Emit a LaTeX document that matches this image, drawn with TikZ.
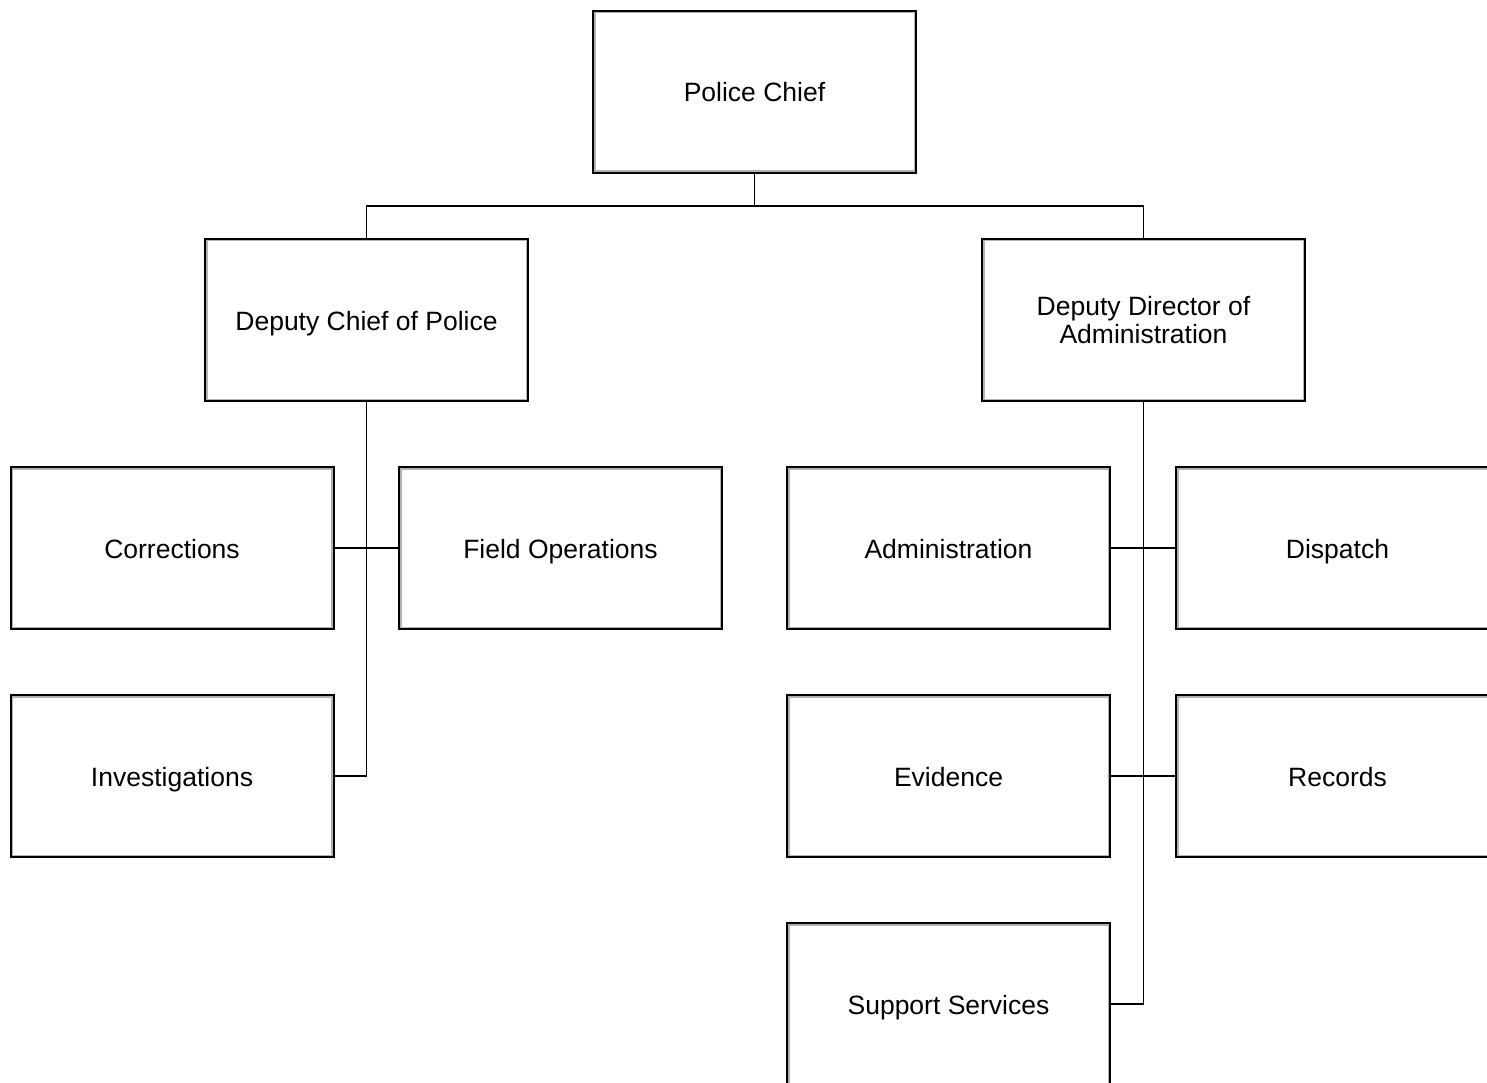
\documentclass[tikz,border=0pt]{standalone}
\usepackage{fontspec}
\setmainfont{Liberation Sans}
\begin{document}
\begin{tikzpicture}[x=1pt,y=-1pt,
  orgbox/.style={draw=black, line width=2pt, fill=white, minimum width=323pt, minimum height=162pt,
    inner sep=0pt, outer sep=0pt, align=center,
    font=\fontsize{26.5}{28}\selectfont,
    path picture={\draw[gray!60, line width=5pt] (path picture bounding box.south west) rectangle (path picture bounding box.north east);}},
  oneline/.style={orgbox, text height=22.5pt, text depth=2.5pt},
  link/.style={line width=1.3pt, black}]
\useasboundingbox (0,0) rectangle (1487,1083);
\node[oneline] (chief) at (754.5,92) {Police Chief};
\node[oneline] (dcp) at (366.5,320) {Deputy Chief of Police};
\node[orgbox] (ddir) at (1143.5,320) {Deputy Director of\\Administration};
\node[oneline] (corr) at (172,548) {Corrections};
\node[oneline] (field) at (560.5,548) {Field Operations};
\node[oneline] (inv) at (172,776) {Investigations};
\node[oneline] (admin) at (948.5,548) {Administration};
\node[oneline] (disp) at (1337.5,548) {Dispatch};
\node[oneline] (evid) at (948.5,776) {Evidence};
\node[oneline] (rec) at (1337.5,776) {Records};
\node[oneline] (supp) at (948.5,1004) {Support Services};
\coordinate (bus) at (754.5,206);
\draw[link] (chief.south) -- (bus);
\draw[link] (bus) -| (dcp.north);
\draw[link] (bus) -| (ddir.north);
\draw[link] (dcp.south) |- (inv.east);
\draw[link] (corr.east) -- (field.west);
\draw[link] (ddir.south) |- (supp.east);
\draw[link] (admin.east) -- (disp.west);
\draw[link] (evid.east) -- (rec.west);
\end{tikzpicture}
\end{document}
